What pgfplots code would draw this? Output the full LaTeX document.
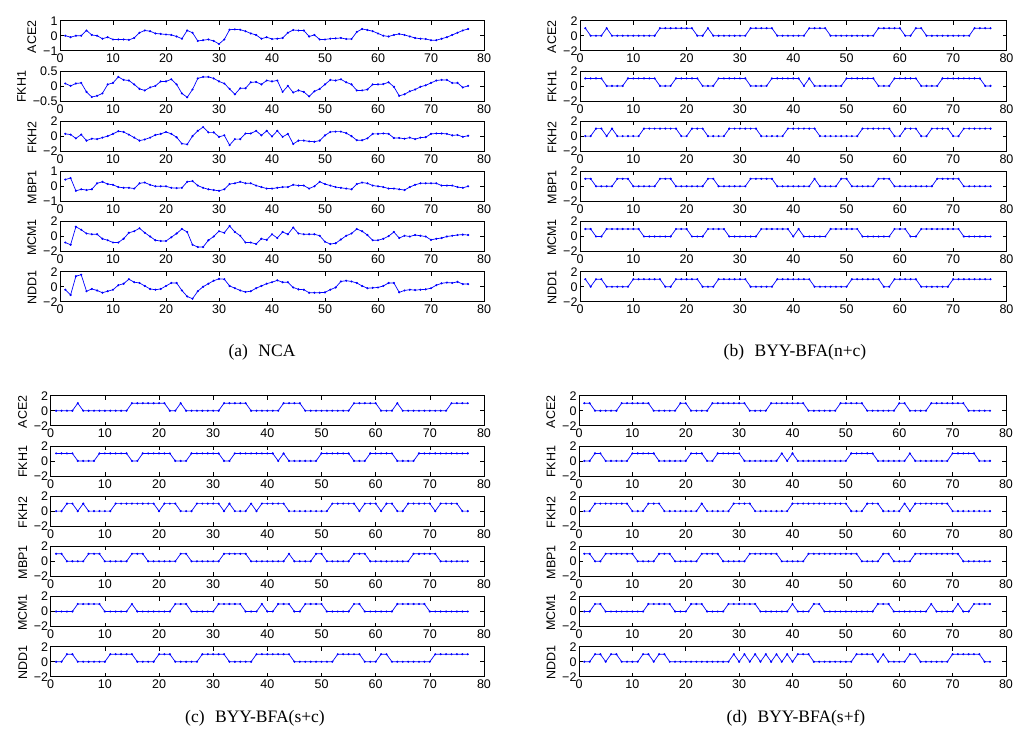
\documentclass[border=0pt]{standalone}
\usepackage{fontspec}
\setmainfont{Liberation Sans}
\newfontfamily\capfont{Liberation Serif}
\usepackage{pgfplots}
\usepackage{pgfplotstable}
\pgfplotsset{compat=1.18}

\pgfplotstableread{
x A B C D E F
1 0 0.08 0.3 0.45 -0.8 -0.4
2 -0.1 0 0.2 0.55 -1.1 -1.1
3 0 0.08 -0.3 -0.3 1.3 1.4
4 0 0.1 0.2 -0.2 0.9 1.6
5 0.35 -0.2 -0.6 -0.25 0.4 -0.6
6 0.05 -0.37 -0.35 -0.2 0.3 -0.3
7 0 -0.33 -0.4 0.2 0.3 -0.5
8 -0.2 -0.25 -0.2 0.3 -0.3 -0.8
9 -0.1 0.05 0 0.15 -0.5 -0.6
10 -0.25 0.1 0.3 0.1 -0.8 -0.4
11 -0.25 0.3 0.65 -0.05 -0.8 0.2
12 -0.25 0.2 0.55 -0.1 -0.3 0.4
13 -0.28 0.18 0.2 -0.1 0.5 1.0
14 -0.15 0.05 -0.2 -0.15 0.7 0.6
15 0.2 -0.1 -0.6 0.2 1.1 0.5
16 0.35 -0.15 -0.45 0.25 0.5 0.1
17 0.3 -0.05 -0.2 0.1 0 -0.3
18 0.15 0 0.15 0 -0.5 -0.4
19 0.12 0.15 0.3 0 -0.6 -0.3
20 0.08 0.15 0.55 0 -0.6 0.1
21 0.05 0.22 0.3 -0.1 -0.1 0.5
22 -0.05 0.05 -0.15 -0.12 0.4 0.5
23 -0.2 -0.25 -1.0 -0.1 1.0 -0.5
24 0.35 -0.38 -1.1 0.3 0.6 -1.3
25 0.2 -0.12 0 0.35 -1.1 -1.6
26 -0.35 0.25 0.7 0.05 -1.4 -0.6
27 -0.3 0.3 1.2 -0.1 -1.4 0
28 -0.25 0.3 0.5 -0.2 -0.5 0.4
29 -0.35 0.25 0.5 -0.25 0 0.8
30 -0.55 0.15 -0.1 -0.3 0.7 1.05
31 -0.25 0.08 0.1 -0.2 0.5 1.0
32 0.4 -0.1 -1.2 0.15 1.4 0.1
33 0.42 -0.28 -0.4 0.2 0.6 -0.2
34 0.4 -0.08 -0.4 0.3 0.1 -0.5
35 0.3 -0.08 0.35 0.2 -0.8 -0.7
36 0.15 0.12 0.35 0.2 -0.8 -0.6
37 0.05 0.13 0.7 0.05 -1.0 -0.2
38 -0.2 0.05 0.1 -0.05 -0.3 0.1
39 -0.1 0.18 0.7 -0.15 -0.45 0.4
40 -0.22 0.15 -0.05 -0.15 0.3 0.6
41 -0.2 0.18 0.7 -0.1 -0.2 0.85
42 -0.15 -0.2 -0.1 -0.05 0.6 0.6
43 0.2 0 0.3 -0.05 0.3 0.6
44 0.38 -0.22 -1.05 0.1 1.2 -0.1
45 0.35 -0.15 -0.6 0.05 0.4 -0.35
46 0.35 -0.2 -0.6 0.05 0.3 -0.4
47 -0.05 -0.35 -0.7 -0.15 0.3 -0.8
48 0.05 -0.18 -0.75 0 0.3 -0.8
49 -0.25 -0.1 -0.6 0.3 0.1 -0.8
50 -0.25 0.05 0.1 0.15 -0.7 -0.75
51 -0.2 0.2 0.55 0.05 -1.0 -0.4
52 -0.18 0.18 0.6 -0.05 -0.9 -0.1
53 -0.15 0.22 0.6 -0.1 -0.4 0.7
54 -0.22 0.12 0.4 -0.15 0.1 0.8
55 -0.22 0.05 0 -0.2 0.4 0.7
56 0.25 -0.15 -0.55 0.15 1.0 0.5
57 0.45 -0.15 -0.55 0.25 0.7 0.1
58 0.38 -0.12 -0.3 0.2 0.2 -0.2
59 0.3 0.05 0.3 0.05 -0.5 -0.15
60 0.15 0.05 0.3 0 -0.5 -0.1
61 0 0.06 0.35 -0.05 -0.3 0.1
62 -0.05 0.12 0.3 -0.15 0.05 0.5
63 0.05 -0.03 -0.25 -0.15 0.6 0.5
64 0.12 -0.33 -0.25 -0.2 -0.2 -0.75
65 0.05 -0.28 -0.35 -0.25 0.1 -0.5
66 -0.05 -0.18 -0.2 -0.05 0 -0.4
67 -0.15 -0.12 -0.4 0.1 0.2 -0.45
68 -0.2 -0.03 -0.2 0.2 0.1 -0.4
69 -0.22 0.02 -0.15 0.2 0 -0.35
70 -0.3 0.1 0.3 0.2 -0.45 -0.2
71 -0.3 0.18 0.35 0.2 -0.3 0.2
72 -0.2 0.2 0.35 0.05 -0.2 0.45
73 -0.1 0.2 0.3 0.05 0 0.55
74 0.05 0.1 0.1 0.05 0.1 0.5
75 0.2 0.1 0.15 -0.05 0.2 0.65
76 0.35 -0.05 -0.1 -0.1 0.25 0.35
77 0.45 0 0.05 0 0.2 0.35
}\tabA

\pgfplotstableread{
x A B C D E F
1 1 1 0 1 1 1
2 0 1 0 1 1 0
3 0 1 1 0 0 1
4 0 1 1 0 0 1
5 1 0 0 0 1 0
6 0 0 1 0 1 0
7 0 0 0 1 1 0
8 0 0 0 1 1 0
9 0 1 0 1 1 0
10 0 1 0 0 1 1
11 0 1 0 0 1 1
12 0 1 1 0 0 1
13 0 1 1 0 0 1
14 0 1 1 0 0 1
15 1 0 1 1 0 1
16 1 0 1 1 0 0
17 1 0 1 1 0 0
18 1 1 1 0 1 1
19 1 1 0 0 1 1
20 1 1 0 0 1 1
21 1 1 1 0 0 1
22 0 1 1 0 0 1
23 0 0 1 0 0 0
24 1 0 0 1 1 0
25 0 0 0 1 1 0
26 0 1 0 0 1 1
27 0 1 0 0 1 1
28 0 1 1 0 0 1
29 0 1 1 0 0 1
30 0 1 1 0 0 1
31 0 1 1 0 0 1
32 1 0 1 1 0 0
33 1 0 1 1 0 0
34 1 0 0 1 1 0
35 1 0 0 1 1 0
36 1 1 0 1 1 0
37 0 1 0 0 1 1
38 0 1 0 0 1 1
39 0 1 1 0 1 1
40 0 1 1 0 0 1
41 0 1 1 0 1 1
42 0 0 1 0 0 1
43 1 1 1 0 0 1
44 1 0 1 1 0 0
45 1 0 0 0 0 0
46 1 0 0 0 0 0
47 0 0 0 0 1 0
48 0 0 0 0 1 0
49 0 0 0 1 1 0
50 0 1 0 1 1 0
51 0 1 0 0 1 1
52 0 1 0 0 1 1
53 0 1 1 0 0 1
54 0 1 1 0 0 1
55 0 1 1 0 0 1
56 1 0 1 1 0 1
57 1 0 1 1 0 0
58 1 0 1 1 0 0
59 1 1 0 0 1 1
60 1 1 0 0 1 1
61 0 1 1 0 1 1
62 0 1 1 0 0 1
63 1 1 1 0 0 1
64 1 0 0 0 1 0
65 0 0 0 0 1 0
66 0 0 1 0 1 0
67 0 0 1 1 1 0
68 0 1 1 1 1 0
69 0 1 1 1 1 0
70 0 1 0 1 1 1
71 0 1 0 1 1 1
72 0 1 1 0 0 1
73 0 1 1 0 0 1
74 1 1 1 0 0 1
75 1 1 1 0 0 1
76 1 0 1 0 0 1
77 1 0 1 0 0 1
}\tabB

\pgfplotstableread{
x A B C D E F
1 0 1 0 1 0 0
2 0 1 0 1 0 0
3 0 1 1 0 0 1
4 0 1 1 0 0 1
5 1 0 0 0 1 0
6 0 0 1 0 1 0
7 0 0 0 1 1 0
8 0 0 0 1 1 0
9 0 1 0 1 1 0
10 0 1 0 0 0 0
11 0 1 0 0 0 1
12 0 1 1 0 0 1
13 0 1 1 0 0 1
14 0 1 1 0 0 1
15 1 0 1 1 1 1
16 1 0 1 1 0 0
17 1 1 1 1 0 0
18 1 1 1 0 0 0
19 1 1 1 0 0 0
20 1 1 0 0 0 1
21 1 1 1 0 0 1
22 0 1 1 0 0 1
23 0 0 1 0 1 0
24 1 0 0 1 1 0
25 0 0 0 1 1 0
26 0 1 0 0 0 0
27 0 1 1 0 0 0
28 0 1 1 0 0 1
29 0 1 1 0 0 1
30 0 1 1 0 0 1
31 0 1 1 0 1 1
32 1 0 0 1 1 1
33 1 0 1 1 1 0
34 1 1 0 1 1 0
35 1 1 0 1 1 0
36 1 1 0 1 0 0
37 0 1 1 0 0 0
38 0 1 0 0 0 1
39 0 1 1 0 1 1
40 0 1 1 0 0 1
41 0 1 1 0 0 1
42 0 0 1 0 1 1
43 1 1 1 0 1 1
44 1 0 0 1 1 1
45 1 0 0 0 0 0
46 1 0 0 0 0 0
47 0 0 0 0 1 0
48 0 0 0 0 1 0
49 0 0 0 1 1 0
50 0 1 0 1 1 0
51 0 1 0 0 0 0
52 0 1 1 0 0 0
53 0 1 1 0 0 1
54 0 1 1 0 0 1
55 0 1 1 0 0 1
56 1 0 1 1 1 1
57 1 0 0 1 1 1
58 1 0 1 1 0 0
59 1 1 1 0 0 0
60 1 1 1 0 0 0
61 0 1 0 0 0 1
62 0 1 1 0 0 1
63 0 1 1 0 0 0
64 1 0 0 0 1 0
65 0 0 0 0 1 0
66 0 0 1 0 1 0
67 0 0 1 1 1 0
68 0 1 1 1 1 0
69 0 1 1 1 1 0
70 0 1 1 1 0 0
71 0 1 0 1 0 1
72 0 1 1 0 0 1
73 0 1 1 0 0 1
74 1 1 1 0 0 1
75 1 1 1 0 0 1
76 1 1 0 0 0 1
77 1 1 0 0 0 1
}\tabC

\pgfplotstableread{
x A B C D E F
1 1 0 0 1 0 0
2 1 0 0 1 0 0
3 0 1 1 0 1 1
4 0 1 1 0 1 1
5 0 0 1 1 0 0
6 0 0 1 1 0 1
7 0 0 1 1 0 1
8 1 0 1 1 0 0
9 1 0 1 1 0 0
10 1 1 0 1 0 0
11 1 1 0 0 0 0
12 1 1 0 0 0 1
13 1 1 1 0 1 1
14 0 1 1 0 1 0
15 0 0 1 1 1 1
16 0 0 0 1 1 1
17 0 0 0 1 1 0
18 0 0 0 0 0 0
19 1 0 0 0 0 0
20 1 0 0 0 0 0
21 0 1 0 0 1 0
22 0 1 0 0 1 0
23 0 1 1 1 1 0
24 0 0 0 1 0 0
25 1 0 0 1 0 0
26 1 1 0 1 0 0
27 1 1 0 0 0 0
28 1 1 0 0 1 0
29 1 1 1 0 1 1
30 1 1 1 0 1 0
31 1 0 1 0 1 1
32 0 0 1 1 1 0
33 0 0 0 1 1 1
34 0 0 0 1 0 0
35 0 0 0 1 0 1
36 1 0 0 1 0 0
37 1 0 0 1 0 1
38 1 1 0 0 0 0
39 1 0 0 0 0 1
40 1 1 1 0 1 0
41 1 0 1 0 0 1
42 1 0 1 0 0 1
43 0 0 1 1 0 1
44 0 0 1 1 1 0
45 0 0 1 1 1 0
46 0 0 1 1 0 0
47 0 0 1 1 0 0
48 0 0 1 1 0 0
49 1 0 1 1 0 0
50 1 0 1 1 0 0
51 1 1 0 1 0 0
52 1 1 0 1 0 1
53 1 1 0 0 0 1
54 0 1 1 0 0 1
55 0 1 1 0 0 1
56 0 0 1 0 1 0
57 0 0 0 1 1 1
58 0 0 0 1 1 0
59 0 0 0 0 0 0
60 1 0 0 0 0 0
61 1 0 1 0 0 0
62 0 1 0 0 0 1
63 0 0 1 1 0 1
64 0 0 1 1 0 0
65 0 0 1 1 0 0
66 1 0 1 1 1 0
67 1 0 1 1 0 0
68 1 0 1 1 0 0
69 1 0 1 1 0 0
70 1 1 0 1 0 1
71 1 1 0 1 1 1
72 1 1 0 0 0 1
73 0 1 0 0 0 1
74 0 1 0 0 1 1
75 0 0 0 0 1 1
76 0 0 0 0 1 0
77 0 0 0 0 1 0
}\tabD

\pgfplotsset{
  sub/.style={
    scale only axis, height=30pt,
    xmin=0, xmax=80, xtick={0,10,...,80},
    ymin=-2, ymax=2, ytick={-2,0,2}, yticklabels={−2,0,2},
    tick align=inside, major tick length=4pt,
    axis line style={line width=0.8pt},
    every tick/.style={black, line width=0.6pt},
    /pgf/number format/assume math mode=true,
    tick label style={font=\fontsize{12.5}{13}\selectfont},
    ylabel style={font=\fontsize{12.5}{13}\selectfont, xshift=-1pt},
    yticklabel style={xshift=1pt},
  }
}

% #1 extra opts, #2 x, #3 y(top), #4 width, #5 label, #6 column, #7 table
\newcommand{\sub}[7][]{%
  \begin{axis}[sub, at={(#2pt,-#3pt)}, anchor=north west, width=#4pt, ylabel={#5}, #1]
    \addplot[blue, line width=0.7pt, mark=*, mark size=0.7pt] table[x=x, y=#6] {#7};
  \end{axis}}

\begin{document}
\begin{tikzpicture}
\useasboundingbox (0,0) rectangle (1020pt,-734pt);

% panel (a)
\sub[ymin=-1,ymax=1,ytick={-1,0,1},yticklabels={−1,0,1}]{60}{20.7}{424}{ACE2}{A}{\tabA}
\sub[ymin=-0.5,ymax=0.5,ytick={-0.5,0,0.5},yticklabels={−0.5,0,0.5}]{60}{70.9}{424}{FKH1}{B}{\tabA}
\sub{60}{121.1}{424}{FKH2}{C}{\tabA}
\sub[ymin=-1,ymax=1,ytick={-1,0,1},yticklabels={−1,0,1}]{60}{171.3}{424}{MBP1}{D}{\tabA}
\sub{60}{221.5}{424}{MCM1}{E}{\tabA}
\sub{60}{271.7}{424}{NDD1}{F}{\tabA}

% panel (b)
\sub{580}{20.7}{426.5}{ACE2}{A}{\tabB}
\sub{580}{70.9}{426.5}{FKH1}{B}{\tabB}
\sub{580}{121.1}{426.5}{FKH2}{C}{\tabB}
\sub{580}{171.3}{426.5}{MBP1}{D}{\tabB}
\sub{580}{221.5}{426.5}{MCM1}{E}{\tabB}
\sub{580}{271.7}{426.5}{NDD1}{F}{\tabB}

% panel (c)
\sub{50.7}{395.7}{433.3}{ACE2}{A}{\tabC}
\sub{50.7}{445.9}{433.3}{FKH1}{B}{\tabC}
\sub{50.7}{496.1}{433.3}{FKH2}{C}{\tabC}
\sub{50.7}{546.3}{433.3}{MBP1}{D}{\tabC}
\sub{50.7}{596.5}{433.3}{MCM1}{E}{\tabC}
\sub{50.7}{646.7}{433.3}{NDD1}{F}{\tabC}

% panel (d)
\sub{579}{395.7}{427}{ACE2}{A}{\tabD}
\sub{579}{445.9}{427}{FKH1}{B}{\tabD}
\sub{579}{496.1}{427}{FKH2}{C}{\tabD}
\sub{579}{546.3}{427}{MBP1}{D}{\tabD}
\sub{579}{596.5}{427}{MCM1}{E}{\tabD}
\sub{579}{646.7}{427}{NDD1}{F}{\tabD}

\node[font=\capfont\fontsize{17.5}{20}\selectfont] at (262pt,-352pt) {(a)\hspace{0.6em}NCA};
\node[font=\capfont\fontsize{17.5}{20}\selectfont] at (795pt,-352pt) {(b)\hspace{0.6em}BYY-BFA(n+c)};
\node[font=\capfont\fontsize{17.5}{20}\selectfont] at (255pt,-718pt) {(c)\hspace{0.6em}BYY-BFA(s+c)};
\node[font=\capfont\fontsize{17.5}{20}\selectfont] at (796pt,-718pt) {(d)\hspace{0.6em}BYY-BFA(s+f)};
\end{tikzpicture}
\end{document}
